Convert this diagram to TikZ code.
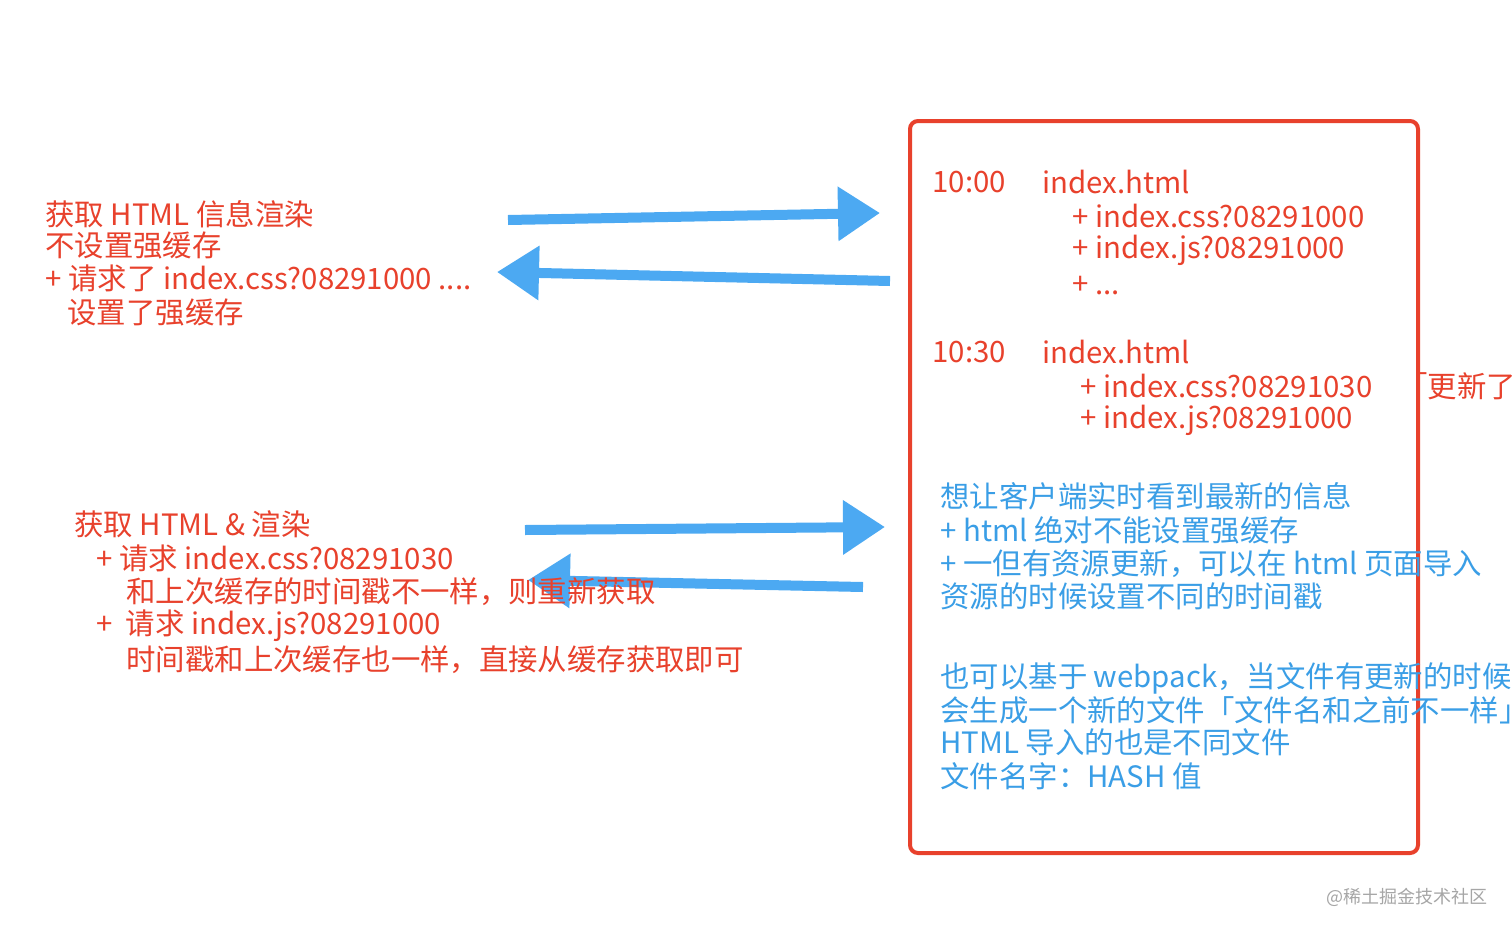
\documentclass[tikz,border=0pt]{standalone}
\usepackage{fontspec}
\setmainfont{Noto Sans CJK SC}
\usetikzlibrary{arrows.meta}
\definecolor{myred}{HTML}{E8412C}
\definecolor{myblue}{HTML}{3A9EE6}
\definecolor{arrblue}{HTML}{4CA9F2}
\begin{document}
\begin{tikzpicture}[x=0.5pt,y=-0.5pt,
  rt/.style={anchor=west,text=myred,font=\fontsize{14.7pt}{17pt}\selectfont,inner sep=0pt},
  bt/.style={anchor=west,text=myblue,font=\fontsize{14.7pt}{17pt}\selectfont,inner sep=0pt},
  bigarrow/.style={draw=arrblue,line width=5pt,-{Triangle[length=21pt,width=26pt]}}]
\useasboundingbox (0,0) rectangle (1512,933);
\clip (0,0) rectangle (1512,933);
\fill[white] (0,0) rectangle (1512,933);
% box
\draw[myred,line width=2pt,rounded corners=4pt] (910,121) rectangle (1418,853);
% arrow endpoints
\coordinate (a1s) at (508,220); \coordinate (a1e) at (880,213);
\coordinate (a2s) at (890,281); \coordinate (a2e) at (497,272);
\coordinate (a3s) at (525,530); \coordinate (a3e) at (885,527);
\coordinate (a4s) at (863,587); \coordinate (a4e) at (528,580);
\draw[bigarrow] (a1s) -- (a1e);
\draw[bigarrow] (a2s) -- (a2e);
\draw[bigarrow] (a3s) -- (a3e);
\draw[bigarrow] (a4s) -- (a4e);
% left top
\node[rt] (l1) at (45,214) {获取 HTML 信息渲染};
\node[rt] (l2) at (45,245) {不设置强缓存};
\node[rt] (l3) at (45,278) {+ 请求了 index.css?08291000 ....};
\node[rt] (l4) at (67,312) {设置了强缓存};
% left bottom
\node[rt] (m1) at (74,524) {获取 HTML \& 渲染};
\node[rt] (m2) at (96,558) {+ 请求 index.css?08291030};
\node[rt] (m3) at (126,592) {和上次缓存的时间戳不一样，则重新获取};
\node[rt] (m4) at (96,626) {+~ 请求 index.js?08291000};
\node[rt] (m5) at (126,660) {时间戳和上次缓存也一样，直接从缓存获取即可};
% right red
\node[rt] (t1) at (932,182) {10:00};
\node[rt] (f1) at (1042,182) {index.html};
\node[rt] (f2) at (1072,216) {+ index.css?08291000};
\node[rt] (f3) at (1072,250) {+ index.js?08291000};
\node[rt] (f4) at (1072,286) {+ ...};
\node[rt] (t2) at (932,352) {10:30};
\node[rt] (g1) at (1042,352) {index.html};
\node[rt] (g2) at (1080,386) {+ index.css?08291030};
\node[rt] (g3) at (1398,386) {「更新了};
\node[rt] (g4) at (1080,420) {+ index.js?08291000};
% right blue
\node[bt] (b1) at (940,496) {想让客户端实时看到最新的信息};
\node[bt] (b2) at (940,530) {+ html 绝对不能设置强缓存};
\node[bt] (b3) at (940,564) {+ 一但有资源更新，可以在 html 页面导入};
\node[bt] (b4) at (940,596) {资源的时候设置不同的时间戳};
\node[bt] (c1) at (940,678) {也可以基于 webpack，当文件有更新的时候};
\node[bt] (c2) at (940,710) {会生成一个新的文件「文件名和之前不一样」};
\node[bt] (c3) at (940,742) {HTML 导入的也是不同文件};
\node[bt] (c4) at (940,776) {文件名字：HASH 值};
% watermark
\node[anchor=west,text=gray!70,font=\fontsize{9pt}{11pt}\selectfont,inner sep=0pt] (wm) at (1326,897) {@稀土掘金技术社区};
\end{tikzpicture}
\end{document}
